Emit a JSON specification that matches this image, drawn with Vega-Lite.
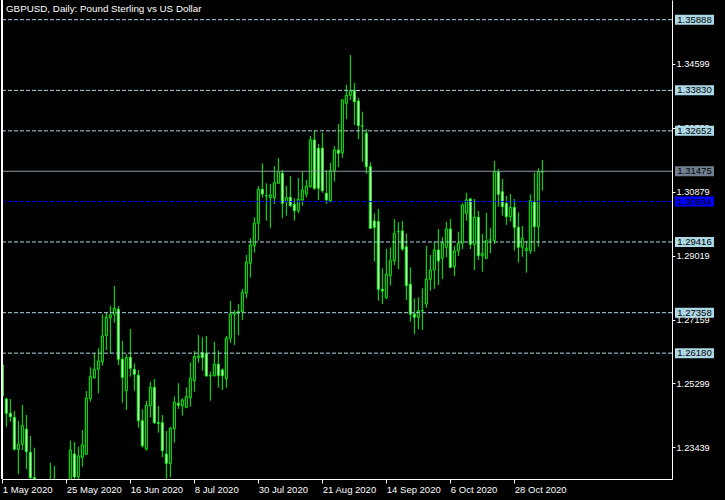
{
  "$schema": "https://vega.github.io/schema/vega-lite/v6.json",
  "width": 670,
  "height": 479,
  "autosize": {"type": "none"},
  "padding": {"left": 2, "top": 0, "right": 53, "bottom": 21},
  "background": "black",
  "config": {
    "view": {"stroke": null},
    "axis": {"labelFont": "Liberation Sans", "labelFontSize": 9.5, "labelColor": "white", "tickColor": "white", "domainColor": "white", "grid": false, "title": null}
  },
  "title": {"text": "GBPUSD, Daily:  Pound Sterling vs US Dollar", "anchor": "start", "frame": "group", "orient": "top", "offset": -14, "dx": 4, "color": "white", "font": "Liberation Sans", "fontSize": 9.8, "fontWeight": "normal"},
  "datasets": {
    "candles": [
      {"i":0,"o":1.25835,"h":1.25903,"l":1.24913,"c":1.24933},
      {"i":1,"o":1.24846,"h":1.24884,"l":1.24039,"c":1.24430},
      {"i":2,"o":1.24430,"h":1.24846,"l":1.24185,"c":1.24331},
      {"i":3,"o":1.24313,"h":1.24496,"l":1.23346,"c":1.23381},
      {"i":4,"o":1.23381,"h":1.24205,"l":1.22654,"c":1.23527},
      {"i":5,"o":1.23527,"h":1.24671,"l":1.23361,"c":1.24069},
      {"i":6,"o":1.23964,"h":1.24380,"l":1.22808,"c":1.23312},
      {"i":7,"o":1.23294,"h":1.23769,"l":1.22450,"c":1.22555},
      {"i":8,"o":1.22555,"h":1.23428,"l":1.22000,"c":1.22350},
      {"i":9,"o":1.22350,"h":1.22490,"l":1.21700,"c":1.21900},
      {"i":10,"o":1.21900,"h":1.22400,"l":1.21600,"c":1.22100},
      {"i":11,"o":1.22100,"h":1.22450,"l":1.20800,"c":1.21300},
      {"i":12,"o":1.21300,"h":1.22991,"l":1.21100,"c":1.22350},
      {"i":13,"o":1.22350,"h":1.22896,"l":1.21800,"c":1.22150},
      {"i":14,"o":1.22150,"h":1.22480,"l":1.21700,"c":1.22350},
      {"i":15,"o":1.22350,"h":1.22450,"l":1.21650,"c":1.21800},
      {"i":16,"o":1.21800,"h":1.22400,"l":1.21650,"c":1.22050},
      {"i":17,"o":1.22050,"h":1.23632,"l":1.21900,"c":1.23361},
      {"i":18,"o":1.23245,"h":1.23594,"l":1.22400,"c":1.22575},
      {"i":19,"o":1.22584,"h":1.23457,"l":1.22400,"c":1.23186},
      {"i":20,"o":1.23149,"h":1.23943,"l":1.22875,"c":1.23507},
      {"i":21,"o":1.23236,"h":1.25079,"l":1.23215,"c":1.24866},
      {"i":22,"o":1.24854,"h":1.25769,"l":1.24767,"c":1.25495},
      {"i":23,"o":1.25466,"h":1.26176,"l":1.25428,"c":1.25710},
      {"i":24,"o":1.25710,"h":1.26322,"l":1.25012,"c":1.25952},
      {"i":25,"o":1.25932,"h":1.27311,"l":1.25815,"c":1.26680},
      {"i":26,"o":1.26689,"h":1.27370,"l":1.26272,"c":1.27224},
      {"i":27,"o":1.27212,"h":1.27553,"l":1.26176,"c":1.27291},
      {"i":28,"o":1.27311,"h":1.28135,"l":1.27067,"c":1.27486},
      {"i":29,"o":1.27457,"h":1.27553,"l":1.25835,"c":1.26001},
      {"i":30,"o":1.26001,"h":1.26534,"l":1.24738,"c":1.25477},
      {"i":31,"o":1.25087,"h":1.26156,"l":1.24525,"c":1.26048},
      {"i":32,"o":1.26060,"h":1.26883,"l":1.25495,"c":1.25739},
      {"i":33,"o":1.25710,"h":1.25885,"l":1.25087,"c":1.25565},
      {"i":34,"o":1.25536,"h":1.25690,"l":1.24010,"c":1.24214},
      {"i":35,"o":1.24214,"h":1.24546,"l":1.23428,"c":1.23486},
      {"i":36,"o":1.23390,"h":1.24787,"l":1.23341,"c":1.24662},
      {"i":37,"o":1.24651,"h":1.25349,"l":1.24313,"c":1.25186},
      {"i":38,"o":1.25186,"h":1.25428,"l":1.24118,"c":1.24156},
      {"i":39,"o":1.24156,"h":1.24642,"l":1.23865,"c":1.24138},
      {"i":40,"o":1.24156,"h":1.24380,"l":1.23149,"c":1.23341},
      {"i":41,"o":1.23245,"h":1.23914,"l":1.22450,"c":1.22974},
      {"i":42,"o":1.22962,"h":1.24031,"l":1.22566,"c":1.23993},
      {"i":43,"o":1.23981,"h":1.24913,"l":1.23574,"c":1.24750},
      {"i":44,"o":1.24721,"h":1.25303,"l":1.24555,"c":1.24662},
      {"i":45,"o":1.24651,"h":1.24866,"l":1.24360,"c":1.24817},
      {"i":46,"o":1.24604,"h":1.25186,"l":1.24575,"c":1.24913},
      {"i":47,"o":1.24883,"h":1.25914,"l":1.24622,"c":1.25448},
      {"i":48,"o":1.25379,"h":1.26243,"l":1.25058,"c":1.26077},
      {"i":49,"o":1.26048,"h":1.26709,"l":1.25903,"c":1.26097},
      {"i":50,"o":1.26194,"h":1.26642,"l":1.25670,"c":1.26048},
      {"i":51,"o":1.26176,"h":1.26680,"l":1.25495,"c":1.25515},
      {"i":52,"o":1.25524,"h":1.25640,"l":1.24796,"c":1.25524},
      {"i":53,"o":1.25524,"h":1.26514,"l":1.25495,"c":1.25856},
      {"i":54,"o":1.25856,"h":1.26252,"l":1.25175,"c":1.25524},
      {"i":55,"o":1.25690,"h":1.25739,"l":1.25108,"c":1.25524},
      {"i":56,"o":1.25437,"h":1.26680,"l":1.25175,"c":1.26613},
      {"i":57,"o":1.26613,"h":1.27699,"l":1.26485,"c":1.27320},
      {"i":58,"o":1.27311,"h":1.27437,"l":1.26418,"c":1.27358},
      {"i":59,"o":1.27341,"h":1.27611,"l":1.26709,"c":1.27387},
      {"i":60,"o":1.27387,"h":1.28048,"l":1.27146,"c":1.27952},
      {"i":61,"o":1.27923,"h":1.29038,"l":1.27777,"c":1.28825},
      {"i":62,"o":1.28796,"h":1.29524,"l":1.28377,"c":1.29329},
      {"i":63,"o":1.29308,"h":1.30135,"l":1.29105,"c":1.29961},
      {"i":64,"o":1.29961,"h":1.31046,"l":1.29454,"c":1.30950},
      {"i":65,"o":1.30950,"h":1.31707,"l":1.30706,"c":1.30813},
      {"i":66,"o":1.30764,"h":1.31125,"l":1.30036,"c":1.30764},
      {"i":67,"o":1.30706,"h":1.31105,"l":1.29815,"c":1.30784},
      {"i":68,"o":1.30706,"h":1.31629,"l":1.30522,"c":1.31142},
      {"i":69,"o":1.31125,"h":1.31861,"l":1.31105,"c":1.31463},
      {"i":70,"o":1.31416,"h":1.31512,"l":1.30106,"c":1.30543},
      {"i":71,"o":1.30589,"h":1.31055,"l":1.30182,"c":1.30706},
      {"i":72,"o":1.30717,"h":1.31337,"l":1.30426,"c":1.30473},
      {"i":73,"o":1.30514,"h":1.30688,"l":1.30036,"c":1.30327},
      {"i":74,"o":1.30327,"h":1.31279,"l":1.30252,"c":1.30659},
      {"i":75,"o":1.30639,"h":1.31463,"l":1.30473,"c":1.30930},
      {"i":76,"o":1.30813,"h":1.31221,"l":1.30717,"c":1.31046},
      {"i":77,"o":1.31026,"h":1.32502,"l":1.30997,"c":1.32385},
      {"i":78,"o":1.32385,"h":1.32656,"l":1.30930,"c":1.30979},
      {"i":79,"o":1.32144,"h":1.32269,"l":1.30639,"c":1.30979},
      {"i":80,"o":1.32144,"h":1.32598,"l":1.30851,"c":1.30910},
      {"i":81,"o":1.30834,"h":1.31512,"l":1.30522,"c":1.30639},
      {"i":82,"o":1.30618,"h":1.31725,"l":1.30572,"c":1.31492},
      {"i":83,"o":1.31492,"h":1.32211,"l":1.31172,"c":1.32094},
      {"i":84,"o":1.32094,"h":1.32851,"l":1.31591,"c":1.31998},
      {"i":85,"o":1.32016,"h":1.33570,"l":1.31870,"c":1.33550},
      {"i":86,"o":1.33454,"h":1.33987,"l":1.32997,"c":1.33687},
      {"i":87,"o":1.33687,"h":1.34860,"l":1.33550,"c":1.33821},
      {"i":88,"o":1.33821,"h":1.34045,"l":1.32822,"c":1.33500},
      {"i":89,"o":1.33521,"h":1.33617,"l":1.32415,"c":1.32802},
      {"i":90,"o":1.32793,"h":1.33209,"l":1.31754,"c":1.32793},
      {"i":91,"o":1.32581,"h":1.32706,"l":1.31396,"c":1.31608},
      {"i":92,"o":1.31608,"h":1.31736,"l":1.29795,"c":1.29815},
      {"i":93,"o":1.30027,"h":1.30246,"l":1.28843,"c":1.29838},
      {"i":94,"o":1.30013,"h":1.30377,"l":1.27707,"c":1.28039},
      {"i":95,"o":1.28039,"h":1.28650,"l":1.27611,"c":1.27990},
      {"i":96,"o":1.27795,"h":1.29212,"l":1.27748,"c":1.28476},
      {"i":97,"o":1.28435,"h":1.29262,"l":1.28144,"c":1.28872},
      {"i":98,"o":1.28872,"h":1.30086,"l":1.28747,"c":1.29669},
      {"i":99,"o":1.29716,"h":1.29990,"l":1.28630,"c":1.29716},
      {"i":100,"o":1.29736,"h":1.30027,"l":1.29154,"c":1.29212},
      {"i":101,"o":1.29279,"h":1.29669,"l":1.27728,"c":1.28144},
      {"i":102,"o":1.28185,"h":1.28680,"l":1.27096,"c":1.27311},
      {"i":103,"o":1.27320,"h":1.27777,"l":1.26738,"c":1.27224},
      {"i":104,"o":1.27224,"h":1.27806,"l":1.26883,"c":1.27416},
      {"i":105,"o":1.27416,"h":1.28068,"l":1.26854,"c":1.27416},
      {"i":106,"o":1.27611,"h":1.29300,"l":1.27504,"c":1.28330},
      {"i":107,"o":1.28330,"h":1.29038,"l":1.27998,"c":1.28601},
      {"i":108,"o":1.28601,"h":1.29425,"l":1.28048,"c":1.29183},
      {"i":109,"o":1.29183,"h":1.29795,"l":1.28164,"c":1.28863},
      {"i":110,"o":1.28942,"h":1.29553,"l":1.28339,"c":1.29378},
      {"i":111,"o":1.29262,"h":1.30007,"l":1.28971,"c":1.29795},
      {"i":112,"o":1.29795,"h":1.30086,"l":1.28650,"c":1.28680},
      {"i":113,"o":1.28697,"h":1.29300,"l":1.28426,"c":1.29154},
      {"i":114,"o":1.29154,"h":1.29716,"l":1.29009,"c":1.29378},
      {"i":115,"o":1.29378,"h":1.30543,"l":1.29204,"c":1.30493},
      {"i":116,"o":1.30252,"h":1.30851,"l":1.30036,"c":1.30639},
      {"i":117,"o":1.30668,"h":1.30706,"l":1.29212,"c":1.29349},
      {"i":118,"o":1.29349,"h":1.30668,"l":1.28601,"c":1.30135},
      {"i":119,"o":1.30135,"h":1.30319,"l":1.28892,"c":1.29017},
      {"i":120,"o":1.29017,"h":1.29649,"l":1.28552,"c":1.29087},
      {"i":121,"o":1.28942,"h":1.30260,"l":1.28913,"c":1.29454},
      {"i":122,"o":1.29474,"h":1.29832,"l":1.29087,"c":1.29474},
      {"i":123,"o":1.29454,"h":1.31774,"l":1.29358,"c":1.31463},
      {"i":124,"o":1.31463,"h":1.31541,"l":1.30444,"c":1.30805},
      {"i":125,"o":1.30880,"h":1.31250,"l":1.30182,"c":1.30444},
      {"i":126,"o":1.30543,"h":1.30755,"l":1.29911,"c":1.30153},
      {"i":127,"o":1.30153,"h":1.30813,"l":1.30007,"c":1.30426},
      {"i":128,"o":1.30426,"h":1.30668,"l":1.29163,"c":1.29844},
      {"i":129,"o":1.29844,"h":1.30281,"l":1.28814,"c":1.29262},
      {"i":130,"o":1.29262,"h":1.29882,"l":1.28988,"c":1.29524},
      {"i":131,"o":1.29163,"h":1.29454,"l":1.28522,"c":1.29233},
      {"i":132,"o":1.29163,"h":1.30805,"l":1.29067,"c":1.30618},
      {"i":133,"o":1.30572,"h":1.31434,"l":1.29134,"c":1.29862},
      {"i":134,"o":1.29862,"h":1.31562,"l":1.29279,"c":1.31463},
      {"i":135,"o":1.31450,"h":1.31803,"l":1.30910,"c":1.31475}
    ],
    "levels": [
      {"v":1.35888,"kind":"level"},
      {"v":1.33830,"kind":"level"},
      {"v":1.32652,"kind":"level"},
      {"v":1.29416,"kind":"level"},
      {"v":1.27358,"kind":"level"},
      {"v":1.26180,"kind":"level"},
      {"v":1.31475,"kind":"bid"},
      {"v":1.30594,"kind":"blue"}
    ]
  },
  "layer": [
    {
      "data": {"name": "candles"},
      "mark": {"type": "rule", "color": "#00FF00", "strokeWidth": 1, "clip": true},
      "encoding": {
        "x": {"field": "i", "type": "quantitative", "scale": {"domain": [-0.0833, 167.4167], "nice": false, "zero": false, "padding": 0},
          "axis": {"values": [0,16,32,48,64,80,96,112,128], "labelExpr": "['1 May 2020','25 May 2020','16 Jun 2020','8 Jul 2020','30 Jul 2020','21 Aug 2020','14 Sep 2020','6 Oct 2020','28 Oct 2020'][round(datum.value/16)]", "labelAlign": "left", "labelBaseline": "top", "tickSize": 4, "labelPadding": 1, "labelFlush": false, "labelOverlap": false}},
        "y": {"field": "l", "type": "quantitative", "scale": {"domain": [1.22516, 1.36461], "nice": false, "zero": false, "padding": 0},
          "axis": {"orient": "right", "values": [1.35529,1.34599,1.33669,1.32739,1.31809,1.30879,1.29949,1.29019,1.28089,1.27159,1.26229,1.25299,1.24369,1.23439], "format": ".5f", "tickSize": 3, "labelPadding": 1, "labelFontSize": 9.2, "labelBaseline": "middle"}},
        "y2": {"field": "h"}
      }
    },
    {
      "data": {"name": "candles"},
      "mark": {"type": "bar", "size": 2, "stroke": "#00FF00", "strokeWidth": 1, "clip": true},
      "encoding": {
        "x": {"field": "i", "type": "quantitative"},
        "y": {"field": "o", "type": "quantitative"},
        "y2": {"field": "c"},
        "fill": {"condition": {"test": "datum.c < datum.o", "value": "white"}, "value": "black"}
      }
    },
    {
      "data": {"name": "levels"},
      "transform": [{"filter": "datum.kind == 'level'"}],
      "mark": {"type": "rule", "color": "#ADD8E6", "strokeWidth": 1, "strokeDash": [4, 2]},
      "encoding": {"y": {"field": "v", "type": "quantitative"}}
    },
    {
      "data": {"name": "levels"},
      "transform": [{"filter": "datum.kind == 'blue'"}],
      "mark": {"type": "rule", "color": "#0000FF", "strokeWidth": 1, "strokeDash": [4, 2]},
      "encoding": {"y": {"field": "v", "type": "quantitative"}}
    },
    {
      "data": {"name": "levels"},
      "transform": [{"filter": "datum.kind == 'bid'"}],
      "mark": {"type": "rule", "color": "#8A9AA6", "strokeWidth": 1},
      "encoding": {"y": {"field": "v", "type": "quantitative"}}
    },
    {
      "data": {"name": "levels"},
      "mark": {"type": "rule", "color": "white", "strokeWidth": 1},
      "encoding": {"x": {"datum": -0.0833, "type": "quantitative"}}
    },
    {
      "data": {"name": "levels"},
      "mark": {"type": "tick", "orient": "horizontal", "size": 39, "thickness": 10, "opacity": 1, "clip": false},
      "encoding": {
        "x": {"datum": 173.04, "type": "quantitative"},
        "y": {"field": "v", "type": "quantitative"},
        "color": {"field": "kind", "type": "nominal", "scale": {"domain": ["level", "bid", "blue"], "range": ["#ADD8E6", "#708090", "#0000FF"]}, "legend": null}
      }
    },
    {
      "data": {"name": "levels"},
      "mark": {"type": "text", "color": "black", "font": "Liberation Sans", "fontSize": 9.5, "align": "center", "baseline": "middle", "clip": false},
      "encoding": {
        "x": {"datum": 173.04, "type": "quantitative"},
        "y": {"field": "v", "type": "quantitative"},
        "text": {"field": "v", "type": "quantitative", "format": ".5f"}
      }
    }
  ]
}
